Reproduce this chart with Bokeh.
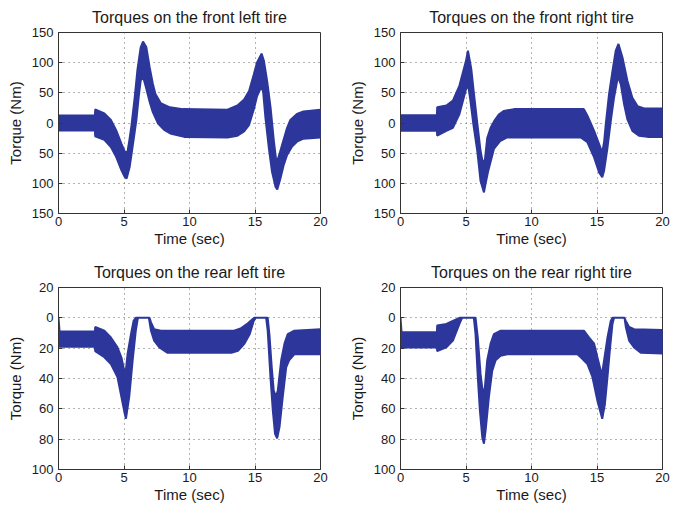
from bokeh.plotting import figure
from bokeh.layouts import column, row
from bokeh.models import Range1d, FixedTicker
from bokeh.embed import file_html
from bokeh.resources import INLINE

# ---------------- data (envelopes of the oscillating torque band) ----------------
time_ticks = [0, 5, 10, 15, 20]
front_ticks = [-150, -100, -50, 0, 50, 100, 150]
rear_ticks = [-100, -80, -60, -40, -20, 0, 20]

titles = ["Torques on the front left tire", "Torques on the front right tire",
          "Torques on the rear left tire", "Torques on the rear right tire"]

# Front left
fl_up_t = [0, 2.78, 2.8, 3.5, 4.0, 4.4, 4.8, 5.05, 5.25, 5.4, 5.56, 5.82, 6.02, 6.27, 6.45, 6.7, 6.96, 7.2, 7.4, 7.8, 8.5, 9.5,
           12.9, 13.66, 14.17, 14.55, 14.9, 15.15, 15.5, 15.68, 15.93, 16.19, 16.44, 16.64, 16.82, 17.07, 17.45, 17.7, 18.2, 18.7, 20]
fl_up_v = [12.5, 12.5, 22.5, 16, 5, -12, -34, -47, -50, -30, -6, 43, 87, 125, 135, 126, 92, 65, 48, 33, 26, 23,
           22, 29, 39, 53, 80, 100, 115, 103, 69, 25, -30, -66, -55, -36, -8, 5, 15, 19, 22]
fl_lo_t = [0, 2.78, 2.8, 3.5, 4.0, 4.4, 4.8, 5.05, 5.2, 5.43, 5.69, 5.94, 6.12, 6.27, 6.45, 6.7, 6.96, 7.2, 7.6, 8.1, 8.6, 9.6,
           12.9, 13.66, 14.17, 14.55, 14.9, 15.15, 15.5, 15.63, 15.8, 16.06, 16.3, 16.57, 16.7, 16.94, 17.2, 17.45, 17.83, 18.2, 18.7, 20]
fl_lo_v = [-12.5, -12.5, -22, -28, -40, -56, -78, -89, -92, -73, -34, 4, 43, 70, 77, 57, 35, 18, -1, -12, -18, -23,
           -24, -21, -14, -3, 22, 44, 61, 50, 8, -42, -81, -106, -110, -92, -69, -53, -39, -31, -26, -24]

# Front right
fr_up_t = [0, 2.78, 2.8, 3.5, 4.0, 4.5, 5.0, 5.15, 5.4, 5.6, 5.86, 6.11, 6.3, 6.45, 6.62, 6.88, 7.2, 7.5, 7.9, 8.66,
           14.0, 14.27, 14.78, 15.16, 15.4, 15.55, 15.67, 15.92, 16.18, 16.43, 16.64, 16.94, 17.32, 17.7, 18.09, 18.6, 20]
fr_up_v = [13, 13, 26, 29, 37, 62, 103, 120, 90, 50, 0, -46, -68, -60, -25, -8, 5, 14, 20, 23,
           23, 12, -13, -35, -49, -30, -2, 48, 86, 120, 131, 109, 70, 42, 28, 24, 24]
fr_lo_t = [0, 2.78, 2.8, 3.5, 4.0, 4.5, 5.0, 5.17, 5.35, 5.55, 5.86, 6.11, 6.37, 6.5, 6.7, 7.13, 7.6, 8.15,
           13.76, 14.27, 14.78, 15.16, 15.4, 15.54, 15.8, 16.05, 16.3, 16.6, 16.82, 17.07, 17.32, 17.7, 18.2, 18.85, 20]
fr_lo_v = [-13, -13, -21, -13, -8, 15, 56, 62, 35, 0, -46, -96, -115, -100, -79, -43, -30, -24,
           -24, -32, -57, -82, -90, -79, -41, 3, 42, 77, 64, 31, 6, -13, -21, -23, -23]

# Rear left
rl_up_t = [0, 0.08, 2.78, 2.8, 3.5, 4.0, 4.5, 4.8, 5.05, 5.15, 5.27, 5.53, 5.73, 5.9, 6.95, 7.06, 7.3, 7.82,
           13.4, 13.9, 14.4, 14.8, 14.95, 15.97, 16.1, 16.28, 16.43, 16.6, 16.74, 17.0, 17.25, 17.5, 18.0, 20]
rl_up_v = [0, -9, -9, -6, -8.5, -13, -19.5, -26, -36, -34, -24, -11, -2, 0, 0, -3, -7.5, -8.5,
           -8.5, -7, -4, -1, 0, 0, -11, -33, -48, -52, -48, -28, -17, -10.7, -8.5, -7.5]
rl_lo_t = [0, 0.06, 2.78, 2.8, 3.5, 4.0, 4.5, 4.8, 5.05, 5.15, 5.4, 5.66, 5.9, 6.04, 6.1, 6.9, 7.06, 7.3, 7.7, 8.3,
           13.2, 13.7, 14.2, 14.6, 14.9, 15.05, 15.85, 15.97, 16.18, 16.36, 16.53, 16.69, 16.87, 17.12, 17.38, 17.6, 18.0, 20]
rl_lo_v = [0, -19, -19, -22, -26, -30.5, -39, -52, -63, -66.5, -52, -28, -8.5, -1, 0, 0, -8.5, -15, -19.5, -23,
           -23, -21.7, -17, -10.7, -2, 0, 0, -8.5, -39, -61, -76.5, -79.5, -72, -52, -32.6, -28, -24, -24]

# Rear right
rr_up_t = [0, 0.08, 2.78, 2.8, 3.5, 4.0, 4.5, 5.73, 5.9, 6.11, 6.32, 6.45, 6.62, 6.88, 7.13, 7.64,
           14.0, 14.4, 14.78, 15.03, 15.29, 15.4, 15.54, 15.8, 16.05, 16.18, 17.1, 17.2, 17.45, 17.83, 20]
rr_up_v = [0, -9.5, -9.5, -5, -4, -2, 0, 0, -13, -37, -52, -45, -28, -17, -10.7, -8.5,
           -8.5, -13, -17, -26, -35, -36, -28, -13, -2, 0, 0, -2, -6, -7.5, -8]
rr_lo_t = [0, 0.06, 2.78, 2.8, 3.5, 4.0, 4.5, 4.7, 5.6, 5.73, 5.9, 6.06, 6.24, 6.37, 6.5, 6.75, 7.0, 7.26, 7.64, 8.15,
           13.5, 13.76, 14.27, 14.65, 15.03, 15.4, 15.6, 15.8, 16.0, 16.18, 16.3, 17.1, 17.2, 17.45, 17.83, 18.34, 20]
rr_lo_v = [0, -19.5, -19.5, -22, -19.5, -15, -4, 0, 0, -11, -39, -61, -78.7, -83, -74, -52, -35, -28, -25, -24,
           -24, -26, -30.5, -39, -54.6, -66.6, -57, -39, -19.5, -4, 0, 0, -6, -15, -19.5, -23, -23.5]

BAND = "#2d379b"
FONT = "Liberation Sans"


def make_panel(title, up_t, up_v, lo_t, lo_v, yticks, frame_h, borders):
    left, right, top, bottom = borders
    p = figure(frame_width=262, frame_height=frame_h,
               x_range=Range1d(0, 20), y_range=Range1d(yticks[0], yticks[-1]),
               output_backend="svg", toolbar_location=None,
               min_border_left=left, min_border_right=right,
               min_border_top=top, min_border_bottom=bottom,
               background_fill_color="white", border_fill_color="white")
    p.title.text = title
    p.title.align = "center"
    p.title.vertical_align = "top"
    p.title.text_font = FONT
    p.title.text_font_size = "16px"
    p.title.text_font_style = "normal"
    p.title.text_color = "#1a1a1a"

    xs = list(up_t) + list(lo_t)[::-1]
    ys = list(up_v) + list(lo_v)[::-1]
    p.patch(xs, ys, fill_color=BAND, line_color=BAND, line_width=2)

    labels = {t: str(abs(t)) for t in yticks}
    p.xaxis.ticker = FixedTicker(ticks=time_ticks)
    p.yaxis.ticker = FixedTicker(ticks=yticks)
    p.yaxis.major_label_overrides = labels
    p.xaxis.axis_label = "Time (sec)"
    p.yaxis.axis_label = "Torque (Nm)"

    for ax in (p.xaxis[0], p.yaxis[0]):
        ax.axis_label_text_font = FONT
        ax.axis_label_text_font_size = "15px"
        ax.axis_label_text_font_style = "normal"
        ax.axis_label_text_color = "#1a1a1a"
        ax.major_label_text_font = FONT
        ax.major_label_text_font_size = "13px"
        ax.major_label_text_color = "#1a1a1a"
        ax.major_tick_in = 4
        ax.major_tick_out = 0
        ax.minor_tick_in = 0
        ax.minor_tick_out = 0
        ax.axis_line_color = "#333333"
        ax.major_tick_line_color = "#333333"
    p.xaxis.major_label_standoff = 3
    p.xaxis.axis_label_standoff = 1
    p.yaxis.major_label_standoff = 5
    p.yaxis.axis_label_standoff = 5

    p.xgrid.ticker = FixedTicker(ticks=time_ticks)
    p.ygrid.ticker = FixedTicker(ticks=yticks)
    for g in (p.xgrid[0], p.ygrid[0]):
        g.grid_line_color = "#666666"
        g.grid_line_dash = "1 4"
        g.grid_line_width = 1
    p.outline_line_color = "#333333"
    p.outline_line_alpha = 1
    return p


p1 = make_panel(titles[0], fl_up_t, fl_up_v, fl_lo_t, fl_lo_v, front_ticks, 181, (58, 20, 32, 37))
p2 = make_panel(titles[1], fr_up_t, fr_up_v, fr_lo_t, fr_lo_v, front_ticks, 181, (60, 19, 32, 37))
p3 = make_panel(titles[2], rl_up_t, rl_up_v, rl_lo_t, rl_lo_v, rear_ticks, 182, (58, 20, 37, 37))
p4 = make_panel(titles[3], rr_up_t, rr_up_v, rr_lo_t, rr_lo_v, rear_ticks, 182, (60, 19, 37, 37))

layout = column(row(p1, p2), row(p3, p4))
open("out.html", "w").write(file_html(layout, INLINE))
